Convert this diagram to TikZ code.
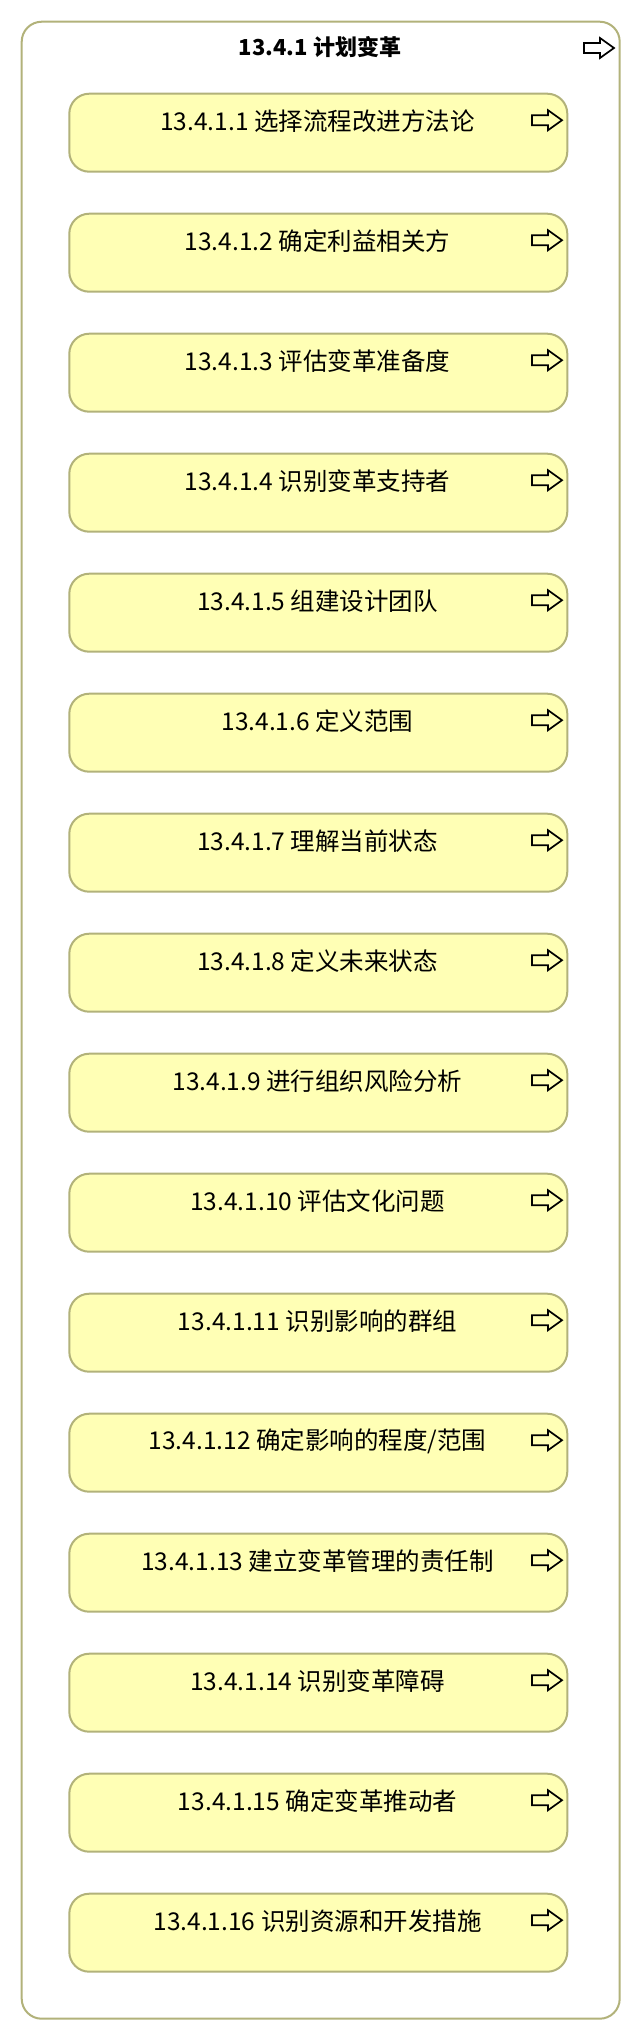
\documentclass[tikz,border=0pt]{standalone}
\usepackage{fontspec}
\setmainfont{Noto Sans CJK SC}
\definecolor{edgeolive}{RGB}{178,178,122}
\definecolor{boxyellow}{RGB}{255,255,181}
\begin{document}
\begin{tikzpicture}[x=1pt,y=-1pt,
  outerbox/.style={draw=edgeolive, line width=2pt, fill=white, rounded corners=20pt,
    minimum width=598pt, minimum height=1997pt, anchor=north west, inner sep=0pt},
  childbox/.style={draw=edgeolive, line width=2pt, fill=boxyellow, rounded corners=20pt,
    minimum width=498pt, minimum height=78pt, anchor=north west, inner sep=0pt},
  titletext/.style={font=\fontsize{22}{26}\selectfont\bfseries, inner sep=0pt},
  childtext/.style={font=\fontsize{24.5}{28}\selectfont, inner sep=0pt},
  fwdarrow/.pic={\draw[line width=1.7pt, black, line join=miter]
     (0,-5) -- (16,-5) -- (16,-10) -- (30,0) -- (16,10) -- (16,5) -- (0,5) -- cycle;}
]
\useasboundingbox (0,0) rectangle (640,2040);
\node[outerbox] (outer) at (20.7,20.7) {};
\node[titletext] (title) at (320,47) {13.4.1 计划变革};
\pic at (584,48) {fwdarrow};
\foreach \lbl [count=\i] in {
  13.4.1.1 选择流程改进方法论,
  13.4.1.2 确定利益相关方,
  13.4.1.3 评估变革准备度,
  13.4.1.4 识别变革支持者,
  13.4.1.5 组建设计团队,
  13.4.1.6 定义范围,
  13.4.1.7 理解当前状态,
  13.4.1.8 定义未来状态,
  13.4.1.9 进行组织风险分析,
  13.4.1.10 评估文化问题,
  13.4.1.11 识别影响的群组,
  13.4.1.12 确定影响的程度/范围,
  13.4.1.13 建立变革管理的责任制,
  13.4.1.14 识别变革障碍,
  13.4.1.15 确定变革推动者,
  13.4.1.16 识别资源和开发措施}{
  \pgfmathsetmacro{\top}{92.7+120*(\i-1)}
  \node[childbox] (b\i) at (68.3,\top) {};
  \node[childtext] (t\i) at (317.5,\top+28.5) {\lbl};
  \pic at (532,\top+27.5) {fwdarrow};
}
\end{tikzpicture}
\end{document}
